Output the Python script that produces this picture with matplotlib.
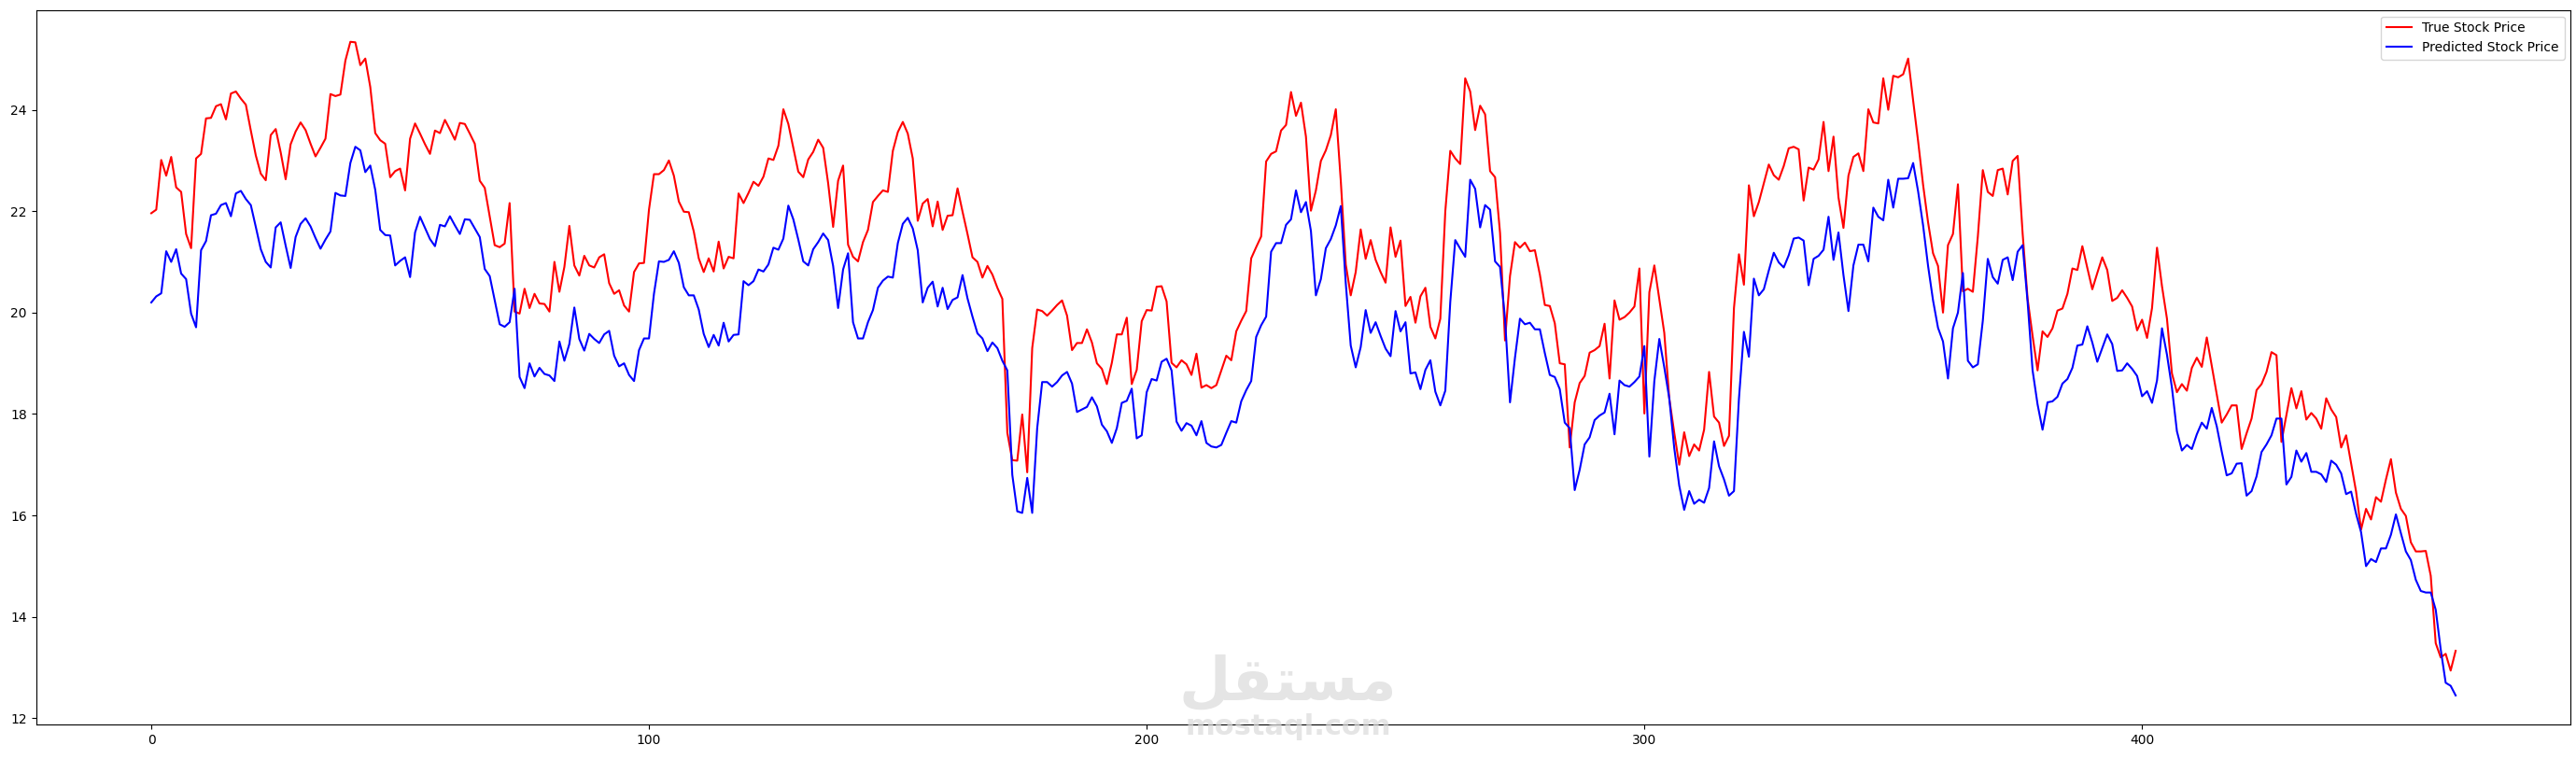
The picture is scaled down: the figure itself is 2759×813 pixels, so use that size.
import numpy as np
import matplotlib
matplotlib.use('Agg')
import matplotlib.pyplot as plt

# values, one per trading day
true_price = [
    21.96, 22.03, 23.01, 22.70, 23.07, 22.47, 22.38, 21.55, 21.27, 23.04,
    23.13, 23.83, 23.84, 24.07, 24.11, 23.81, 24.32, 24.36, 24.22, 24.10,
    23.59, 23.10, 22.74, 22.61, 23.50, 23.62, 23.16, 22.63, 23.32, 23.57,
    23.75, 23.60, 23.33, 23.08, 23.25, 23.43, 24.31, 24.27, 24.30, 24.97,
    25.34, 25.33, 24.88, 25.01, 24.45, 23.54, 23.40, 23.33, 22.67, 22.79,
    22.84, 22.41, 23.43, 23.73, 23.53, 23.32, 23.13, 23.59, 23.54, 23.80,
    23.61, 23.41, 23.74, 23.72, 23.53, 23.33, 22.60, 22.46, 21.90, 21.33,
    21.29, 21.36, 22.16, 20.02, 19.98, 20.47, 20.09, 20.37, 20.18, 20.17,
    20.02, 21.00, 20.41, 20.90, 21.71, 20.93, 20.73, 21.12, 20.93, 20.89,
    21.09, 21.15, 20.58, 20.37, 20.44, 20.14, 20.02, 20.80, 20.97, 20.98,
    22.03, 22.73, 22.73, 22.81, 23.00, 22.70, 22.19, 21.99, 21.98, 21.60,
    21.07, 20.80, 21.07, 20.81, 21.40, 20.87, 21.10, 21.07, 22.35, 22.16,
    22.36, 22.58, 22.50, 22.68, 23.04, 23.01, 23.29, 24.01, 23.72, 23.25,
    22.78, 22.67, 23.02, 23.17, 23.41, 23.25, 22.55, 21.69, 22.60, 22.90,
    21.34, 21.10, 21.01, 21.39, 21.63, 22.18, 22.30, 22.41, 22.38, 23.19,
    23.56, 23.76, 23.53, 23.04, 21.81, 22.15, 22.24, 21.70, 22.19, 21.63,
    21.91, 21.92, 22.45, 21.99, 21.55, 21.09, 21.00, 20.69, 20.92, 20.75,
    20.49, 20.27, 17.63, 17.09, 17.08, 17.99, 16.85, 19.30, 20.06, 20.03,
    19.94, 20.04, 20.15, 20.24, 19.94, 19.26, 19.40, 19.40, 19.67, 19.41,
    19.00, 18.89, 18.59, 19.01, 19.57, 19.57, 19.90, 18.59, 18.87, 19.83,
    20.05, 20.04, 20.51, 20.52, 20.22, 19.01, 18.92, 19.06, 18.98, 18.77,
    19.19, 18.52, 18.57, 18.51, 18.57, 18.86, 19.15, 19.06, 19.63, 19.84,
    20.03, 21.07, 21.29, 21.50, 22.98, 23.13, 23.18, 23.59, 23.70, 24.35,
    23.88, 24.14, 23.47, 22.01, 22.41, 22.99, 23.20, 23.50, 24.01, 22.60,
    20.95, 20.34, 20.80, 21.64, 21.06, 21.43, 21.04, 20.80, 20.59, 21.68,
    21.10, 21.42, 20.13, 20.31, 19.80, 20.32, 20.49, 19.72, 19.49, 19.88,
    22.00, 23.19, 23.04, 22.93, 24.62, 24.36, 23.60, 24.08, 23.91, 22.79,
    22.67, 21.57, 19.45, 20.72, 21.39, 21.28, 21.38, 21.21, 21.23, 20.75,
    20.15, 20.13, 19.79, 19.00, 18.98, 17.34, 18.23, 18.61, 18.75, 19.21,
    19.26, 19.34, 19.78, 18.70, 20.24, 19.86, 19.91, 20.00, 20.12, 20.87,
    18.01, 20.40, 20.93, 20.27, 19.60, 18.31, 17.63, 17.00, 17.64, 17.17,
    17.40, 17.28, 17.69, 18.83, 17.95, 17.83, 17.37, 17.57, 20.09, 21.15,
    20.55, 22.51, 21.90, 22.18, 22.55, 22.92, 22.71, 22.62, 22.89, 23.24,
    23.27, 23.22, 22.21, 22.86, 22.82, 23.02, 23.76, 22.79, 23.47, 22.27,
    21.67, 22.70, 23.07, 23.14, 22.79, 24.01, 23.75, 23.73, 24.62, 24.00,
    24.67, 24.64, 24.70, 25.01, 24.18, 23.38, 22.52, 21.78, 21.17, 20.92,
    20.00, 21.33, 21.55, 22.53, 20.42, 20.47, 20.41, 21.50, 22.81, 22.38,
    22.30, 22.81, 22.84, 22.33, 22.99, 23.09, 21.56, 20.27, 19.54, 18.86,
    19.63, 19.52, 19.69, 20.04, 20.08, 20.37, 20.87, 20.84, 21.31, 20.88,
    20.46, 20.78, 21.09, 20.84, 20.23, 20.29, 20.44, 20.29, 20.12, 19.65,
    19.86, 19.50, 20.09, 21.28, 20.52, 19.88, 18.80, 18.43, 18.59, 18.46,
    18.91, 19.11, 18.93, 19.51, 18.95, 18.40, 17.83, 17.99, 18.17, 18.17,
    17.31, 17.62, 17.91, 18.47, 18.59, 18.83, 19.22, 19.16, 17.45, 17.98,
    18.51, 18.11, 18.45, 17.89, 18.02, 17.91, 17.71, 18.31, 18.09, 17.94,
    17.34, 17.58, 17.02, 16.47, 15.72, 16.13, 15.92, 16.36, 16.27, 16.71,
    17.11, 16.45, 16.13, 15.99, 15.47, 15.29, 15.29, 15.30, 14.81, 13.48,
    13.20, 13.27, 12.94, 13.33,
]

predicted_price = [
    20.20, 20.32, 20.38, 21.21, 21.00, 21.25, 20.77, 20.66, 19.98, 19.71,
    21.23, 21.41, 21.92, 21.95, 22.12, 22.16, 21.90, 22.35, 22.40, 22.24,
    22.12, 21.69, 21.25, 21.00, 20.89, 21.68, 21.78, 21.32, 20.88, 21.49,
    21.75, 21.86, 21.70, 21.47, 21.26, 21.44, 21.60, 22.36, 22.31, 22.30,
    22.95, 23.27, 23.20, 22.77, 22.90, 22.42, 21.63, 21.53, 21.52, 20.93,
    21.02, 21.09, 20.70, 21.58, 21.89, 21.67, 21.45, 21.31, 21.73, 21.70,
    21.90, 21.72, 21.55, 21.84, 21.83, 21.66, 21.49, 20.86, 20.72, 20.24,
    19.77, 19.72, 19.81, 20.47, 18.73, 18.51, 19.00, 18.74, 18.91, 18.79,
    18.76, 18.65, 19.43, 19.05, 19.38, 20.10, 19.48, 19.25, 19.58, 19.48,
    19.40, 19.57, 19.64, 19.15, 18.94, 19.00, 18.77, 18.65, 19.26, 19.49,
    19.49, 20.37, 21.01, 21.00, 21.04, 21.21, 20.98, 20.50, 20.34, 20.34,
    20.06, 19.58, 19.32, 19.56, 19.35, 19.80, 19.43, 19.56, 19.57, 20.62,
    20.54, 20.62, 20.85, 20.81, 20.95, 21.28, 21.24, 21.46, 22.11, 21.84,
    21.44, 21.01, 20.93, 21.25, 21.39, 21.56, 21.43, 20.92, 20.09, 20.85,
    21.17, 19.81, 19.49, 19.49, 19.81, 20.05, 20.49, 20.63, 20.71, 20.69,
    21.37, 21.75, 21.87, 21.66, 21.23, 20.20, 20.49, 20.61, 20.12, 20.49,
    20.07, 20.25, 20.30, 20.74, 20.28, 19.92, 19.59, 19.49, 19.24, 19.41,
    19.30, 19.05, 18.86, 16.80, 16.08, 16.05, 16.74, 16.05, 17.72, 18.63,
    18.63, 18.54, 18.63, 18.76, 18.83, 18.60, 18.04, 18.09, 18.14, 18.33,
    18.15, 17.79, 17.66, 17.43, 17.72, 18.22, 18.26, 18.50, 17.52, 17.58,
    18.43, 18.69, 18.66, 19.03, 19.09, 18.86, 17.85, 17.67, 17.82, 17.77,
    17.58, 17.86, 17.43, 17.36, 17.34, 17.39, 17.63, 17.86, 17.83, 18.25,
    18.47, 18.65, 19.52, 19.75, 19.92, 21.20, 21.37, 21.37, 21.73, 21.84,
    22.41, 21.98, 22.18, 21.61, 20.34, 20.66, 21.27, 21.45, 21.72, 22.10,
    20.58, 19.35, 18.92, 19.32, 20.05, 19.60, 19.81, 19.54, 19.29, 19.14,
    20.03, 19.63, 19.81, 18.80, 18.82, 18.49, 18.87, 19.06, 18.44, 18.17,
    18.46, 20.21, 21.43, 21.26, 21.10, 22.62, 22.44, 21.68, 22.12, 22.03,
    21.01, 20.90, 19.88, 18.23, 19.11, 19.88, 19.77, 19.80, 19.67, 19.67,
    19.20, 18.77, 18.73, 18.49, 17.83, 17.72, 16.50, 16.90, 17.40, 17.54,
    17.88, 17.97, 18.03, 18.40, 17.60, 18.66, 18.57, 18.54, 18.63, 18.74,
    19.34, 17.16, 18.65, 19.48, 18.92, 18.31, 17.33, 16.59, 16.11, 16.48,
    16.23, 16.31, 16.25, 16.54, 17.46, 16.97, 16.71, 16.39, 16.48, 18.30,
    19.62, 19.13, 20.67, 20.34, 20.46, 20.83, 21.18, 20.99, 20.89, 21.13,
    21.46, 21.48, 21.42, 20.54, 21.06, 21.12, 21.24, 21.89, 21.04, 21.58,
    20.74, 20.03, 20.93, 21.34, 21.34, 21.01, 22.07, 21.89, 21.82, 22.62,
    22.07, 22.64, 22.64, 22.65, 22.95, 22.39, 21.72, 20.92, 20.24, 19.70,
    19.43, 18.70, 19.69, 20.00, 20.78, 19.05, 18.92, 18.98, 19.84, 21.06,
    20.70, 20.57, 21.04, 21.09, 20.64, 21.20, 21.33, 20.21, 18.86, 18.19,
    17.69, 18.23, 18.25, 18.34, 18.60, 18.69, 18.91, 19.35, 19.37, 19.73,
    19.41, 19.03, 19.30, 19.57, 19.38, 18.85, 18.86, 19.00, 18.89, 18.75,
    18.35, 18.45, 18.22, 18.66, 19.69, 19.17, 18.52, 17.66, 17.28, 17.39,
    17.31, 17.60, 17.83, 17.71, 18.12, 17.76, 17.26, 16.79, 16.83, 17.02,
    17.03, 16.39, 16.48, 16.77, 17.25, 17.40, 17.58, 17.91, 17.91, 16.61,
    16.76, 17.28, 17.06, 17.23, 16.86, 16.86, 16.81, 16.66, 17.08, 17.00,
    16.83, 16.42, 16.47, 16.03, 15.67, 15.00, 15.14, 15.08, 15.35, 15.35,
    15.62, 16.02, 15.65, 15.29, 15.12, 14.73, 14.51, 14.48, 14.48, 14.14,
    13.36, 12.70, 12.64, 12.45,
]

fig, ax = plt.subplots(figsize=(27.59, 8.13), dpi=100)
fig.subplots_adjust(left=0.014, right=0.998, top=0.987, bottom=0.045)

ax.plot(true_price, color='red', label='True Stock Price')
ax.plot(predicted_price, color='blue', label='Predicted Stock Price')
ax.set_ylim(11.87, 25.97)
ax.legend(loc='upper right')

# site watermark (Arabic glyphs given in visual, left-to-right order)
fig.text(0.5, 0.1, '\ufede\ufed8\ufe98\ufeb4\ufee3', ha='center', va='center',
         fontsize=46, fontweight='bold', color='#dadada', alpha=0.7)
fig.text(0.5, 0.043, 'mostaql.com', ha='center', va='center',
         fontsize=22, fontweight='bold', color='#dadada', alpha=0.7)

fig.savefig('out.png', dpi=100)
